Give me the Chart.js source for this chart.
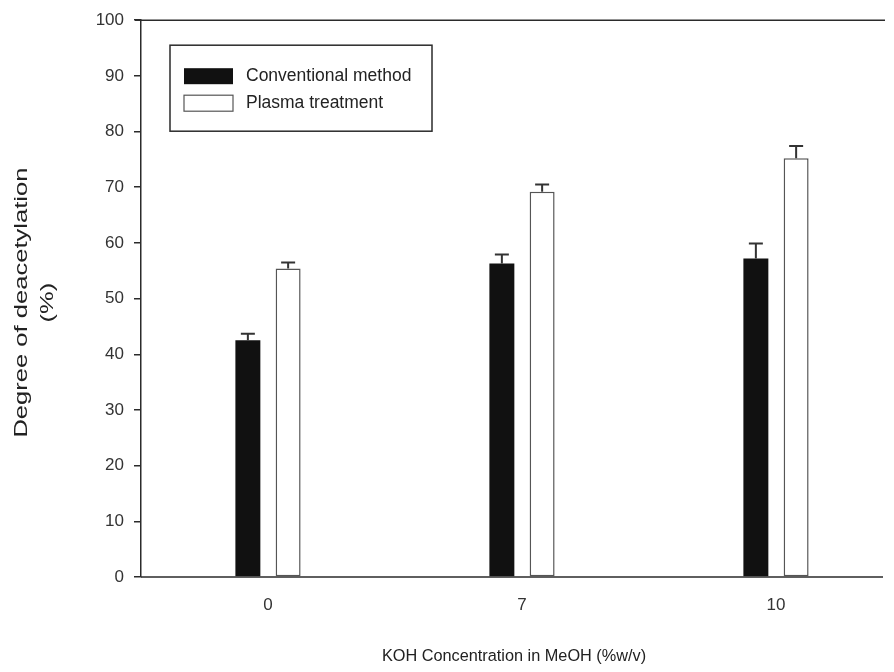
<!DOCTYPE html>
<html>
<head>
<meta charset="utf-8">
<script src="https://cdn.jsdelivr.net/npm/chart.js@4"></script>
<style>
body { margin: 0; background: #fff; overflow: hidden; }
#wrap { width: 906px; height: 672px; }
</style>
</head>
<body>
<div id="wrap"><canvas id="c"></canvas></div>
<script>
// data
const categories = ['0', '7', '10'];
const conventional = [42.5, 56.3, 57.2];
const conventionalErr = [1.2, 1.6, 2.7];
const plasma = [55.4, 69.2, 75.2];
const plasmaErr = [1.1, 1.3, 2.2];
const seriesNames = ['Conventional method', 'Plasma treatment'];
const yTicks = [0, 10, 20, 30, 40, 50, 60, 70, 80, 90, 100];
const yTitle = ['Degree of deacetylation', '(%)'];
const xTitle = 'KOH Concentration in MeOH (%w/v)';

const FONT = '"Liberation Sans", Arial, sans-serif';
const INK = '#2b2b2b';

// upward-only error bars with a cap
const errorBars = {
    id: 'errorBars',
    afterDatasetsDraw(chart) {
        const { ctx, scales } = chart;
        const errs = [conventionalErr, plasmaErr];
        ctx.save();
        ctx.strokeStyle = '#333';
        ctx.lineWidth = 2;
        chart.data.datasets.forEach((ds, di) => {
            const meta = chart.getDatasetMeta(di);
            meta.data.forEach((bar, i) => {
                const top = scales.y.getPixelForValue(ds.data[i] + errs[di][i]);
                ctx.beginPath();
                ctx.moveTo(bar.x, bar.y);
                ctx.lineTo(bar.x, top);
                ctx.moveTo(bar.x - 7, top);
                ctx.lineTo(bar.x + 7, top);
                ctx.stroke();
            });
        });
        ctx.restore();
    }
};

// frame lines, boxed legend, axis titles (y title stretched: the scan is taller than wide)
const frameAndLegend = {
    id: 'frameAndLegend',
    afterDraw(chart) {
        const { ctx, chartArea } = chart;
        ctx.save();
        ctx.strokeStyle = INK;
        ctx.lineWidth = 1.5;
        ctx.beginPath();
        ctx.moveTo(chartArea.left - 6, chartArea.top);
        ctx.lineTo(chartArea.right - 18, chartArea.top);
        ctx.moveTo(chartArea.left, chartArea.bottom);
        ctx.lineTo(chartArea.right - 20, chartArea.bottom);
        ctx.stroke();

        const bx = chartArea.left + 29, by = chartArea.top + 25;
        ctx.strokeRect(bx, by, 262, 86);
        ctx.font = '17.5px ' + FONT;
        ctx.textBaseline = 'middle';
        ctx.textAlign = 'left';
        chart.data.datasets.forEach((ds, i) => {
            const y = by + 31 + i * 27;
            ctx.fillStyle = ds.backgroundColor;
            ctx.fillRect(bx + 14, y - 8, 49, 16);
            if (ds.borderWidth) {
                ctx.strokeStyle = ds.borderColor;
                ctx.lineWidth = 1.2;
                ctx.strokeRect(bx + 14, y - 8, 49, 16);
            }
            ctx.fillStyle = '#222';
            ctx.fillText(ds.label, bx + 76, y);
        });

        const cy = (chartArea.top + chartArea.bottom) / 2;
        ctx.fillStyle = '#222';
        ctx.font = '18px ' + FONT;
        ctx.textAlign = 'center';
        yTitle.forEach((t, i) => {
            ctx.save();
            ctx.translate(chartArea.left - 119 + i * 26, cy + 4);
            ctx.rotate(-Math.PI / 2);
            ctx.scale(1.42, 1);
            ctx.fillText(t, 0, 0);
            ctx.restore();
        });

        ctx.font = '16.3px ' + FONT;
        ctx.fillText(xTitle, chartArea.left + 373, chartArea.bottom + 80);
        ctx.restore();
    }
};

new Chart(document.getElementById('c'), {
    type: 'bar',
    data: {
        labels: categories,
        datasets: [
            { label: seriesNames[0], data: conventional, backgroundColor: '#111111', borderWidth: 0,
              barPercentage: 0.62, categoryPercentage: 0.317 },
            { label: seriesNames[1], data: plasma, backgroundColor: '#ffffff', borderColor: '#555555', borderWidth: 1.5,
              borderSkipped: false, barPercentage: 0.62, categoryPercentage: 0.317 }
        ]
    },
    options: {
        responsive: true, maintainAspectRatio: false, animation: false,
        layout: { padding: { top: 20, right: 3, left: 0, bottom: 0 } },
        scales: {
            x: {
                offset: true,
                grid: { display: false },
                border: { display: false },
                ticks: { color: '#333', font: { size: 17, family: FONT }, padding: 10 },
                title: { display: false },
                afterFit(scale) { scale.height = 95; }
            },
            y: {
                min: 0, max: 100,
                afterBuildTicks(scale) { scale.ticks = yTicks.map(v => ({ value: v })); },
                grid: { drawOnChartArea: false, drawTicks: true, tickLength: 7, color: INK, lineWidth: 1.5 },
                border: { color: INK, width: 1.5 },
                ticks: { color: '#333', font: { size: 17, family: FONT }, padding: 10 },
                title: { display: false },
                afterFit(scale) { scale.width = 141; }
            }
        },
        plugins: { legend: { display: false }, tooltip: { enabled: false } }
    },
    plugins: [errorBars, frameAndLegend]
});
</script>
</body>
</html>
